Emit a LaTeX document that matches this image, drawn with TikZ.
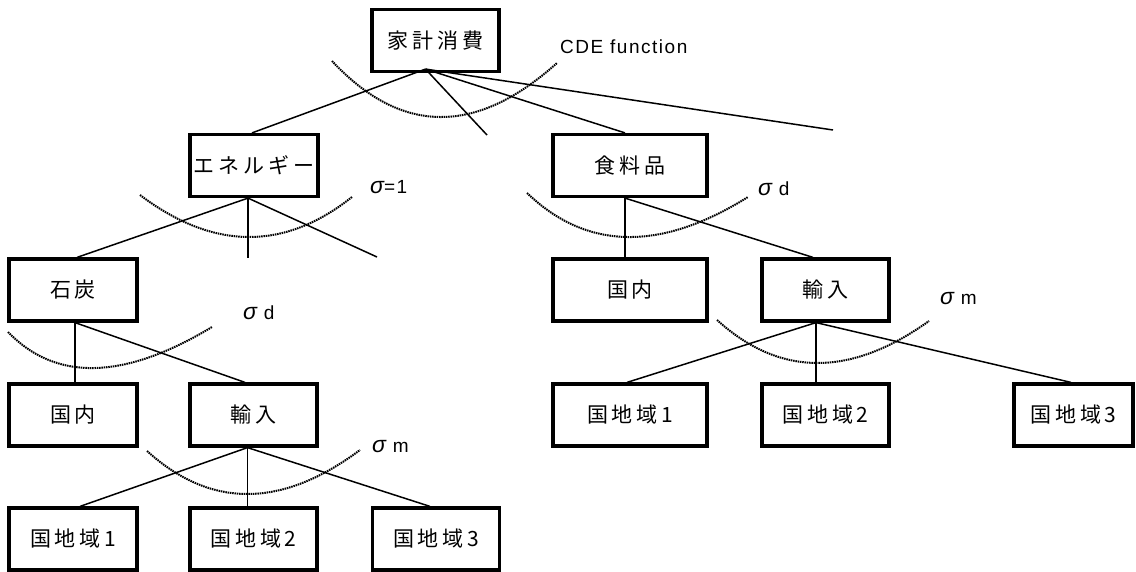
\documentclass[tikz,border=0pt]{standalone}
\usepackage{fontspec}
\setmainfont{Liberation Sans}
\newfontfamily\jpfont[LetterSpace=18]{Noto Sans CJK JP}
\newfontfamily\latfont[LetterSpace=8]{Liberation Sans}
\newfontfamily\sigfont{Liberation Sans Italic}
\usetikzlibrary{calc}
\newcommand{\sig}{{\sigfont\fontsize{23}{23}\selectfont σ}}
\begin{document}
\begin{tikzpicture}[x=1pt,y=-1pt,
  box/.style={draw, line width=3.2pt, minimum height=62pt, minimum width=127pt, inner sep=0pt,
    font=\jpfont\fontsize{21}{24}\selectfont},
  wbox/.style={box, minimum width=154pt},
  conn/.style={line width=1.5pt},
  dotarc/.style={line width=2pt, dash pattern=on 1.5pt off 0.8pt},
  lab/.style={anchor=west, inner sep=0pt, font=\latfont\fontsize{19}{22}\selectfont}]
\useasboundingbox (0,0) rectangle (1136,572);

% nodes
\node[box] (top) at (435.5,40.5) {家計消費};
\node[box, minimum width=128pt] (ene) at (254,165.5) {エネルギー};
\node[wbox] (food) at (630,165.5) {食料品};
\node[box, minimum width=128pt] (coal) at (73,290) {石炭};
\node[box, minimum width=128pt] (dom1) at (73,415) {国内};
\node[box] (imp1) at (253.5,415) {輸入};
\node[box, minimum width=128pt] (r1a) at (73,539) {国地域1};
\node[box] (r2a) at (253.5,539) {国地域2};
\node[box] (r3a) at (436,539) {国地域3};
\node[wbox] (dom2) at (630,290) {国内};
\node[box] (imp2) at (825.5,290) {輸入};
\node[wbox] (r1b) at (630,415) {国地域1};
\node[box] (r2b) at (825.5,415) {国地域2};
\node[box, minimum width=119pt] (r3b) at (1073.5,415) {国地域3};

% origins and free ends
\coordinate (o0) at ($(top.south)+(-10,-4)$);
\coordinate (oE) at ($(ene.south)+(-6,0)$);
\coordinate (oC) at ($(coal.south)+(2,0)$);
\coordinate (oI) at ($(imp1.south)+(-6,0)$);
\coordinate (oF) at ($(food.south)+(-5,0)$);
\coordinate (oJ) at ($(imp2.south)+(-9.5,0)$);
\coordinate (f1) at (487,135);
\coordinate (f2) at (833,130);
\coordinate (fE1) at (248,258);
\coordinate (fE2) at (377,257);

% connectors
\draw[conn] (o0) -- ($(ene.north)+(-2,0)$);
\draw[conn] (o0) -- (f1);
\draw[conn] (o0) -- ($(food.north)+(-5,0)$);
\draw[conn] (o0) -- (f2);

\draw[conn] (oE) -- ($(coal.north)+(4,0)$);
\draw[conn] (oE) -- (oE |- fE1);
\draw[conn] (oE) -- (fE2);

\draw[conn] (oC) -- (oC |- dom1.north);
\draw[conn] (oC) -- ($(imp1.north)+(-8.5,0)$);

\draw[conn] (oI) -- ($(r1a.north)+(7,0)$);
\draw[conn] (oI) -- (oI |- r2a.north);
\draw[conn] (oI) -- ($(r3a.north)+(-6,0)$);

\draw[conn] (oF) -- (oF |- dom2.north);
\draw[conn] (oF) -- ($(imp2.north)+(-12.5,0)$);

\draw[conn] (oJ) -- ($(r1b.north)+(-3,0)$);
\draw[conn] (oJ) -- (oJ |- r2b.north);
\draw[conn] (oJ) -- ($(r3b.north)+(-2.5,0)$);

% dotted arcs
\draw[dotarc] (332,61) .. controls (401,135) and (476,135.7) .. (557,63);
\draw[dotarc] (140,195) .. controls (213.3,250.3) and (284,251) .. (352,197);
\draw[dotarc] (8,332) .. controls (56,381.7) and (124,380) .. (212,327);
\draw[dotarc] (147,451) .. controls (210.7,508.7) and (281.7,508.3) .. (360,450);
\draw[dotarc] (527,193) .. controls (586.7,250.3) and (660.3,251.7) .. (748,197);
\draw[dotarc] (717,320) .. controls (779.7,377) and (850.3,377.3) .. (929,321);

% labels
\node[lab] (lcde) at (560,47) {CDE function};
\node[lab] (ls1) at (370,187) {\sig=1};
\node[lab] (lsd1) at (243,313) {\sig\ d};
\node[lab] (lsm1) at (372,447) {\sig\ m};
\node[lab] (lsd2) at (758,189) {\sig\ d};
\node[lab] (lsm2) at (940,299) {\sig\ m};
\end{tikzpicture}
\end{document}
